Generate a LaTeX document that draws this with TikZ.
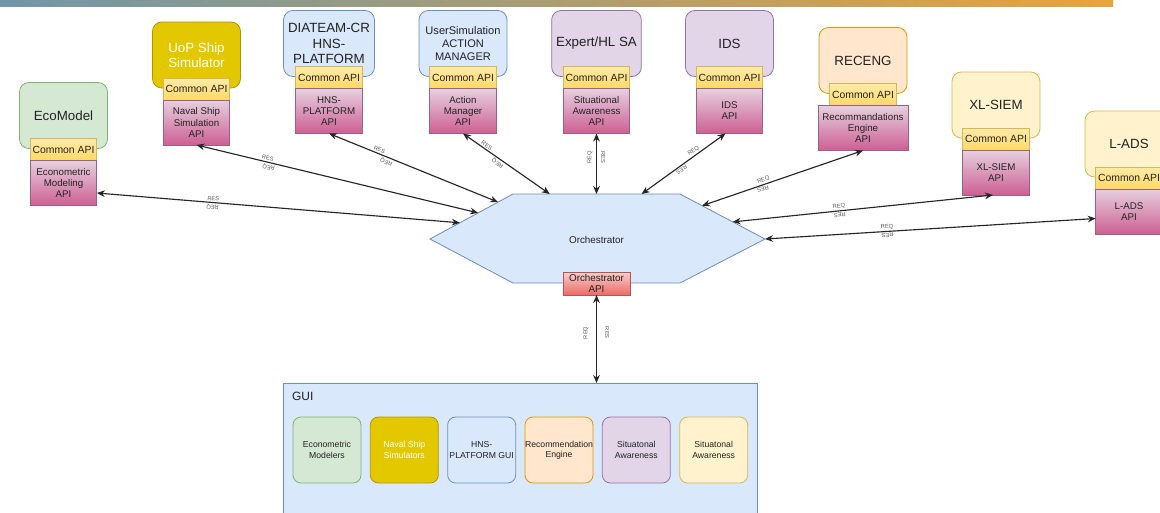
\documentclass[tikz,border=0pt]{standalone}
\usepackage{fontspec}
\setmainfont{Liberation Sans}
\usetikzlibrary{positioning,calc,arrows.meta}

\definecolor{grnfill}{HTML}{D5E8D4}\definecolor{grnline}{HTML}{82B366}
\definecolor{goldfill}{HTML}{E3C800}\definecolor{goldline}{HTML}{B09500}
\definecolor{bluefill}{HTML}{DAE8FC}\definecolor{blueline}{HTML}{6C8EBF}
\definecolor{purpfill}{HTML}{E1D5E7}\definecolor{purpline}{HTML}{9673A6}
\definecolor{orgfill}{HTML}{FFE6CC}\definecolor{orgline}{HTML}{D79B00}
\definecolor{yelfill}{HTML}{FFF2CC}\definecolor{yelline}{HTML}{D6B656}
\definecolor{comtop}{HTML}{FFEBA8}\definecolor{combot}{HTML}{FFD966}
\definecolor{apitop}{HTML}{E6D0DE}\definecolor{apibot}{HTML}{CD5F93}\definecolor{apiline}{HTML}{996185}
\definecolor{redtop}{HTML}{F8CECC}\definecolor{redbot}{HTML}{EA6B66}\definecolor{redline}{HTML}{B85450}
\definecolor{txt}{HTML}{222222}
\definecolor{barL}{HTML}{6F97A8}\definecolor{barM}{HTML}{B3A86A}\definecolor{barR}{HTML}{E9A33B}

\begin{document}
\begin{tikzpicture}[x=0.75pt,y=-0.75pt,
		every node/.style={outer sep=0pt,align=center,text=txt},
		comp/.style={draw,rounded corners=7pt,minimum width=66pt,minimum height=49.5pt,line width=0.6pt,font=\fontsize{10}{11.6}\selectfont},
		common/.style={draw=yelline,top color=comtop,bottom color=combot,minimum width=50pt,minimum height=16.5pt,inner sep=0pt,line width=0.6pt,font=\fontsize{7.8}{9}\selectfont},
		api/.style={draw=apiline,top color=apitop,bottom color=apibot,minimum width=50pt,minimum height=33.75pt,inner sep=0pt,line width=0.6pt,font=\fontsize{7.3}{8.3}\selectfont},
		link/.style={{Stealth[length=6pt,width=5pt]}-{Stealth[length=6pt,width=5pt]},line width=0.85pt,black!85},
		lbl/.style={font=\fontsize{4.3}{5}\selectfont,text=black!65,inner sep=1.4pt},
		guiitem/.style={draw,rounded corners=6pt,minimum width=51pt,minimum height=49.5pt,inner sep=0pt,line width=0.6pt,font=\fontsize{6.5}{7.8}\selectfont}]
	\useasboundingbox (0,0) rectangle (1160,512);
	\clip (0,0) rectangle (1160,512);
	\fill[white] (0,0) rectangle (1160,512);
	\shade[left color=barL,middle color=barM,right color=barR] (0,0) rectangle (1113,6);

	% components with their APIs
	\node[comp,draw=grnline,fill=grnfill] (eco) at (63.5,115.5) {EcoModel};
	\node[common,below=-7.5pt of eco] (ecocom) {Common API};
	\node[api,below=0pt of ecocom] (ecoapi) {Econometric\\Modeling\\API};

	\node[comp,draw=goldline,fill=goldfill,text=white] (uop) at (196.5,55) {UoP Ship\\Simulator};
	\node[common,below=-7.5pt of uop] (uopcom) {Common API};
	\node[api,below=0pt of uopcom] (uopapi) {Naval Ship\\Simulation\\API};

	\node[comp,draw=blueline,fill=bluefill] (dia) at (329,43.5) {DIATEAM-CR\\HNS-\\PLATFORM};
	\node[common,below=-7.5pt of dia] (diacom) {Common API};
	\node[api,below=0pt of diacom] (diaapi) {HNS-\\PLATFORM\\API};

	\node[comp,draw=blueline,fill=bluefill,font=\fontsize{8.3}{9.8}\selectfont] (usr) at (463,43.5) {UserSimulation\\ACTION\\MANAGER};
	\node[common,below=-7.5pt of usr] (usrcom) {Common API};
	\node[api,below=0pt of usrcom] (usrapi) {Action\\Manager\\API};

	\node[comp,draw=purpline,fill=purpfill] (exp) at (596.5,43.5) {Expert/HL SA};
	\node[common,below=-7.5pt of exp] (expcom) {Common API};
	\node[api,below=0pt of expcom] (expapi) {Situational\\Awareness\\API};

	\node[comp,draw=purpline,fill=purpfill] (ids) at (729.5,43.5) {IDS};
	\node[common,below=-7.5pt of ids] (idscom) {Common API};
	\node[api,below=0pt of idscom] (idsapi) {IDS\\API};

	\node[comp,draw=orgline,fill=orgfill] (rec) at (863,60.5) {RECENG};
	\node[common,below=-7.5pt of rec] (reccom) {Common API};
	\node[api,below=0pt of reccom,minimum width=67.5pt] (recapi) {Recommandations\\Engine\\API};

	\node[comp,draw=yelline,fill=yelfill] (xls) at (996,105) {XL-SIEM};
	\node[common,below=-7.5pt of xls] (xlscom) {Common API};
	\node[api,below=0pt of xlscom] (xlsapi) {XL-SIEM\\API};

	\node[comp,draw=yelline,fill=yelfill] (lad) at (1129,144) {L-ADS};
	\node[common,below=-7.5pt of lad] (ladcom) {Common API};
	\node[api,below=0pt of ladcom] (ladapi) {L-ADS\\API};

	% orchestrator
	\coordinate (hl)  at (430,239);
	\coordinate (htl) at (513,194);
	\coordinate (htr) at (680,194);
	\coordinate (hr)  at (765,239);
	\coordinate (hbr) at (680,283);
	\coordinate (hbl) at (513,283);
	\draw[draw=blueline,fill=bluefill,line width=0.6pt] (hl) -- (htl) -- (htr) -- (hr) -- (hbr) -- (hbl) -- cycle;
	\node[font=\fontsize{7.4}{9}\selectfont] (orch) at (596.5,240) {Orchestrator};
	\node[draw=redline,top color=redtop,bottom color=redbot,minimum width=50.25pt,minimum height=17.25pt,inner sep=0pt,line width=0.6pt,font=\fontsize{7.4}{8.4}\selectfont] (orchapi) at (596.5,283.5) {Orchestrator\\API};

	\coordinate (oeco) at ($(hl)!0.36!(htl)$);
	\coordinate (ouop) at ($(hl)!0.58!(htl)$);
	\coordinate (odia) at ($(hl)!0.82!(htl)$);
	\coordinate (ousr) at ($(htl)!0.22!(htr)$);
	\coordinate (oexp) at ($(htl)!0.5!(htr)$);
	\coordinate (oids) at ($(htl)!0.77!(htr)$);
	\coordinate (orec) at ($(htr)!0.26!(hr)$);
	\coordinate (oxls) at ($(htr)!0.62!(hr)$);
	\coordinate (olad) at (hr);

	% GUI
	\node[draw=blueline,fill=bluefill,minimum width=355.5pt,minimum height=105pt,line width=0.6pt] (gui) at (520,453) {};
	\node[anchor=base west,inner sep=0pt,font=\fontsize{9}{10}\selectfont] (guilbl) at (292,400) {GUI};
	\node[guiitem,draw=grnline,fill=grnfill] (g1) at (327,450) {Econometric\\Modelers};
	\node[guiitem,draw=goldline,fill=goldfill,text=white,right=7pt of g1] (g2) {Naval Ship\\Simulators};
	\node[guiitem,draw=blueline,fill=bluefill,right=7pt of g2] (g3) {HNS-\\PLATFORM GUI};
	\node[guiitem,draw=orgline,fill=orgfill,right=7pt of g3] (g4) {Recommendation\\Engine};
	\node[guiitem,draw=purpline,fill=purpfill,right=7pt of g4] (g5) {Situatonal\\Awareness};
	\node[guiitem,draw=yelline,fill=yelfill,right=7pt of g5] (g6) {Situatonal\\Awareness};

	% links
	\draw[link] ($(ecoapi.east)+(0,10)$) -- (oeco) node[lbl,pos=0.32,sloped,above]{RES} node[lbl,pos=0.32,sloped,above,rotate=180]{REQ};
	\draw[link] (uopapi.south) -- (ouop) node[lbl,pos=0.25,sloped,above]{RES} node[lbl,pos=0.26,sloped,above,rotate=180]{REQ};
	\draw[link] (diaapi.south) -- (odia) node[lbl,pos=0.29,sloped,above]{RES} node[lbl,pos=0.35,sloped,above,rotate=180]{REQ};
	\draw[link] (usrapi.south) -- (ousr) node[lbl,pos=0.25,sloped,above]{RES} node[lbl,pos=0.43,sloped,above,rotate=180]{REQ};
	\draw[link] (expapi.south) -- (oexp) node[lbl,pos=0.4,xshift=-5pt,rotate=90]{REQ} node[lbl,pos=0.4,xshift=5pt,rotate=-90]{RES};
	\draw[link] (oids) -- ($(idsapi.south)+(-4,0)$) node[lbl,pos=0.65,sloped,above]{REQ} node[lbl,pos=0.45,sloped,above,rotate=180]{RES};
	\draw[link] (orec) -- (recapi.south) node[lbl,pos=0.39,sloped,above]{REQ} node[lbl,pos=0.37,sloped,above,rotate=180]{RES};
	\draw[link] (oxls) -- ($(xlsapi.south)+(-3,0)$) node[lbl,pos=0.41,sloped,above]{REQ} node[lbl,pos=0.41,sloped,above,rotate=180]{RES};
	\draw[link] (olad) -- ($(ladapi.west)+(0,7)$) node[lbl,pos=0.37,sloped,above]{REQ} node[lbl,pos=0.37,sloped,above,rotate=180]{RES};
	\draw[link] (orchapi.south) -- (orchapi.south |- gui.north) node[lbl,pos=0.43,xshift=-8pt,rotate=90]{REQ} node[lbl,pos=0.43,xshift=8pt,rotate=-90]{RES};
\end{tikzpicture}
\end{document}
